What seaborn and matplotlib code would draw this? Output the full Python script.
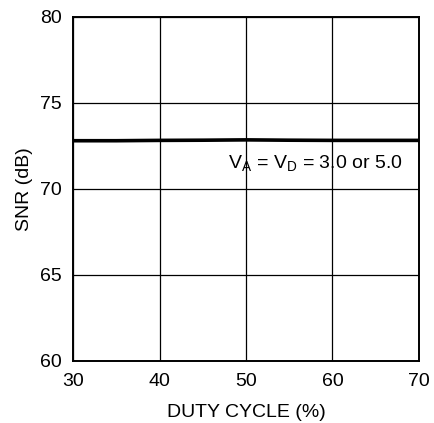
import matplotlib
matplotlib.use("Agg")
import matplotlib.pyplot as plt
import pandas as pd
import seaborn as sns

# ── Data ─────────────────────────────────────────────────────────────────────
duty_cycle = [30, 35, 40, 45, 50, 55, 60, 65, 70]
snr_db = [72.8, 72.8, 72.82, 72.83, 72.85, 72.83, 72.82, 72.82, 72.82]
x_ticks = [30, 40, 50, 60, 70]
y_ticks = [60, 65, 70, 75, 80]

df = pd.DataFrame({"duty": duty_cycle, "snr": snr_db})

sns.set_style("white")
plt.rcParams["font.family"] = ["Liberation Sans", "DejaVu Sans"]
plt.rcParams["text.color"] = "black"
plt.rcParams["axes.labelcolor"] = "black"

fig, ax = plt.subplots(figsize=(4.35, 4.23), dpi=100)
fig.subplots_adjust(left=0.168, right=0.963, top=0.96, bottom=0.147)

sns.lineplot(data=df, x="duty", y="snr", color="black", lw=2.6, ax=ax)

ax.set_xlim(30, 70)
ax.set_ylim(60, 80)
ax.set_xticks(x_ticks)
ax.set_yticks(y_ticks)
ax.grid(True, color="black", lw=0.9)
for s in ax.spines.values():
    s.set_color("black")
    s.set_linewidth(1.4)
ax.tick_params(labelsize=14, length=0, colors="black")
ax.tick_params(axis="x", pad=9)
ax.tick_params(axis="y", pad=8)
ax.set_xlabel("DUTY CYCLE (%)", fontsize=14, labelpad=10)
ax.set_ylabel("SNR (dB)", fontsize=14, labelpad=5)

ax.text(47.9, 71.45, r"V$_\mathregular{A}$ = V$_\mathregular{D}$ = 3.0 or 5.0",
        fontsize=14, va="center", ha="left")

fig.savefig("out.png", dpi=100)
